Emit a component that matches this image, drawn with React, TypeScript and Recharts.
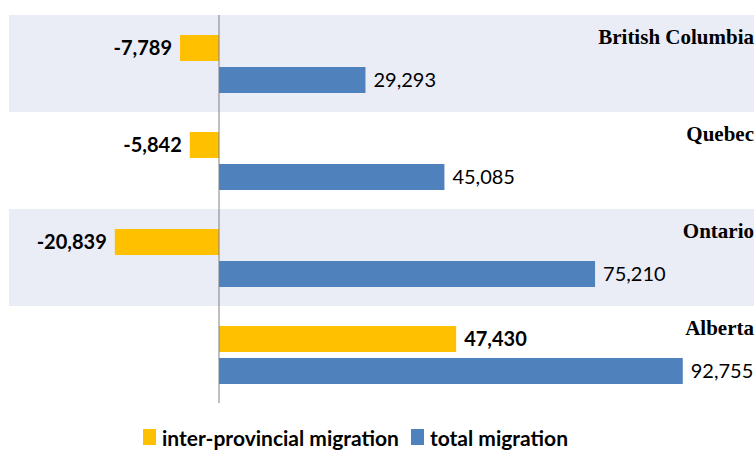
import {
  Bar,
  BarChart,
  LabelList,
  Legend,
  ReferenceArea,
  ReferenceLine,
  XAxis,
  YAxis,
} from "recharts";

const provinces = ["British Columbia", "Quebec", "Ontario", "Alberta"];
const interProvincial = [-7789, -5842, -20839, 47430];
const totalMigration = [29293, 45085, 75210, 92755];
const shadedRows = ["British Columbia", "Ontario"];

const YELLOW = "#FFC000";
const BLUE = "#4F81BD";
const BAND = "#EAECF6";
const CHART_W = 756;
const MARGIN = { top: 15, right: 2, left: 9, bottom: 17 };

const data = provinces.map((name, i) => ({
  name,
  inter: interProvincial[i],
  total: totalMigration[i],
}));

const fmt = (v: number) => v.toLocaleString("en-US");

function ValueLabel(props: any) {
  const { x, y, width, height, value, bold } = props;
  const a = Number(x);
  const b = a + Number(width);
  const left = Math.min(a, b);
  const right = Math.max(a, b);
  const neg = Number(value) < 0;
  return (
    <text
      x={neg ? left - 8 : right + 8}
      y={Number(y) + Number(height) / 2}
      dy="0.36em"
      textAnchor={neg ? "end" : "start"}
      fontFamily="Lato"
      fontSize={20}
      fontWeight={bold ? 700 : 400}
      fill="#000"
    >
      {fmt(Number(value))}
    </text>
  );
}

// province name, right-aligned at the top of each row
function ProvinceLabel({ y, height, value }: any) {
  return (
    <text
      x={CHART_W - MARGIN.right}
      y={Number(y) + Number(height) / 2 - 4}
      textAnchor="end"
      fontFamily="Liberation Serif"
      fontWeight={700}
      fontSize={21}
      fill="#000"
    >
      {value}
    </text>
  );
}

function MigrationLegend({ payload }: any) {
  return (
    <div
      style={{
        display: "flex",
        justifyContent: "center",
        alignItems: "center",
        height: 30,
        paddingRight: 40,
        fontFamily: "Lato",
        fontWeight: 700,
        fontSize: 21,
        color: "#000",
      }}
    >
      {(payload || []).map((p: any) => (
        <span
          key={p.value}
          style={{ display: "flex", alignItems: "center", marginRight: 12 }}
        >
          <span
            style={{
              width: 13,
              height: 16,
              background: p.color,
              marginRight: 6,
              display: "inline-block",
            }}
          />
          {p.value}
        </span>
      ))}
    </div>
  );
}

export default function App() {
  return (
    <div style={{ position: "absolute", left: 0, top: 0, width: 756, height: 450, background: "#fff", overflow: "hidden" }}>
      <BarChart
        width={CHART_W}
        height={450}
        data={data}
        layout="vertical"
        barSize={26}
        barGap={6}
        margin={MARGIN}
      >
        <XAxis type="number" domain={[-42000, 107000]} hide />
        <YAxis type="category" dataKey="name" hide />
        {shadedRows.map((r) => (
          <ReferenceArea
            key={r}
            y1={r}
            y2={r}
            fill={BAND}
            fillOpacity={1}
            stroke="none"
            ifOverflow="visible"
          />
        ))}
        <ReferenceLine x={0} stroke="#808080" strokeWidth={1} />
        <Legend
          verticalAlign="bottom"
          wrapperStyle={{ bottom: -2 }}
          content={<MigrationLegend />}
        />
        <Bar
          dataKey="inter"
          name="inter-provincial migration"
          fill={YELLOW}
          isAnimationActive={false}
        >
          <LabelList dataKey="inter" content={<ValueLabel bold />} />
          <LabelList dataKey="name" content={<ProvinceLabel />} />
        </Bar>
        <Bar
          dataKey="total"
          name="total migration"
          fill={BLUE}
          isAnimationActive={false}
        >
          <LabelList dataKey="total" content={<ValueLabel />} />
        </Bar>
      </BarChart>
    </div>
  );
}
